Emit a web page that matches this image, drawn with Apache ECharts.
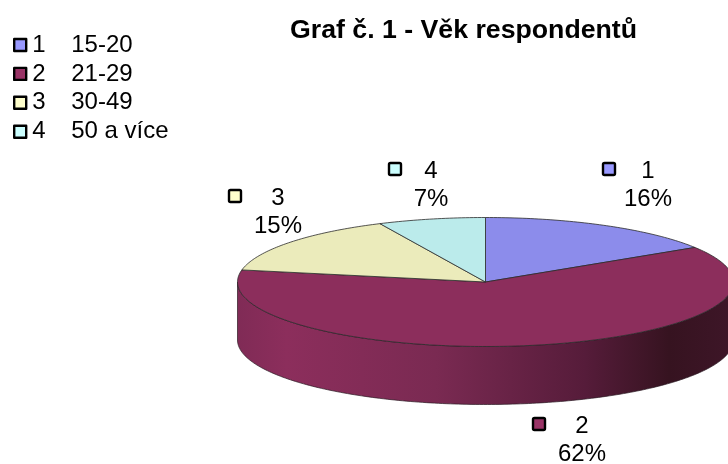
<!DOCTYPE html>
<html>
<head>
<meta charset="utf-8">
<style>
html, body { margin: 0; padding: 0; background: #fff; }
#chart { width: 728px; height: 464px; }
</style>
<script src="https://cdn.jsdelivr.net/npm/echarts@6/dist/echarts.min.js"></script>
</head>
<body>
<div id="chart"></div>
<script>
var titleText = 'Graf č. 1 - Věk respondentů';
var categories = ['1', '2', '3', '4'];
var ageGroups = ['15-20', '21-29', '30-49', '50 a více'];
var percents = [16, 62, 15, 7];
var legendColors = ['#9999FF', '#993366', '#FFFFCC', '#CCFFFF'];
var topColors = ['#8C8CEB', '#8C2E5C', '#EBEBBB', '#BBEBEB'];

var font = '"Liberation Sans", Arial, sans-serif';
var cx = 485.5, cy = 282, rx = 248, ry = 64.5, depth = 58;
// pozice popisku: stred textu a levy okraj znacky
var labelPos = [
    { x: 648, y: 171, mx: 603 },
    { x: 582, y: 426, mx: 533 },
    { x: 278, y: 198, mx: 229 },
    { x: 431, y: 171, mx: 389 }
];

var total = 0;
percents.forEach(function (v) { total += v; });

function point(angle, dy) {
    return [cx + rx * Math.sin(angle), cy + (dy || 0) - ry * Math.cos(angle)];
}

function arc(from, to, dy) {
    var pts = [], n = Math.max(2, Math.ceil((to - from) * 60)), i;
    for (i = 0; i <= n; i++) {
        pts.push(point(from + (to - from) * i / n, dy));
    }
    return pts;
}

function renderSlice(index, start, end) {
    return function () {
        var children = [];
        // predni stena jen mezi 90 a 270 stupni
        var wallFrom = Math.max(start, Math.PI / 2),
            wallTo = Math.min(end, Math.PI * 3 / 2);
        if (wallTo > wallFrom) {
            var wall = arc(wallFrom, wallTo, 0).concat(arc(wallFrom, wallTo, depth).reverse());
            children.push({
                type: 'polygon',
                shape: { points: wall },
                style: {
                    fill: new echarts.graphic.LinearGradient(cx - rx, 0, cx + rx, 0, [
                        { offset: 0, color: '#802B56' },
                        { offset: 0.1, color: '#8C2E5C' },
                        { offset: 0.4, color: '#7A2A52' },
                        { offset: 0.7, color: '#561C3A' },
                        { offset: 0.87, color: '#361320' },
                        { offset: 1, color: '#3E1628' }
                    ], true),
                    stroke: '#2a1a22',
                    lineWidth: 0.7
                }
            });
        }
        children.push({
            type: 'polygon',
            shape: { points: [[cx, cy]].concat(arc(start, end, 0)) },
            style: { fill: topColors[index], stroke: '#2b2b2b', lineWidth: 0.8, lineJoin: 'round' }
        });
        var pos = labelPos[index];
        children.push({
            type: 'rect',
            shape: { x: pos.mx, y: pos.y - 8, width: 12, height: 12, r: 1.5 },
            style: { fill: legendColors[index], stroke: '#000', lineWidth: 2.4 }
        });
        children.push({
            type: 'text',
            style: { text: categories[index], x: pos.x, y: pos.y, align: 'center', verticalAlign: 'middle', font: '24px ' + font, fill: '#000' }
        });
        children.push({
            type: 'text',
            style: { text: percents[index] + '%', x: pos.x, y: pos.y + 28, align: 'center', verticalAlign: 'middle', font: '24px ' + font, fill: '#000' }
        });
        return { type: 'group', children: children };
    };
}

var series = [], acc = 0;
percents.forEach(function (v, i) {
    var start = acc / total * Math.PI * 2;
    acc += v;
    series.push({
        name: categories[i],
        type: 'custom',
        coordinateSystem: 'none',
        silent: true,
        animation: false,
        itemStyle: { color: legendColors[i] },
        data: [[v]],
        renderItem: renderSlice(i, start, acc / total * Math.PI * 2)
    });
});

var chart = echarts.init(document.getElementById('chart'), null, { renderer: 'canvas' });
chart.setOption({
    animation: false,
    backgroundColor: '#fff',
    title: {
        text: titleText,
        left: 290,
        top: 17,
        padding: 0,
        textStyle: { fontFamily: font, fontSize: 26.7, fontWeight: 'bold', color: '#000' }
    },
    legend: {
        orient: 'vertical',
        left: 13,
        top: 33,
        padding: 0,
        itemWidth: 12,
        itemHeight: 12,
        itemGap: 4.9,
        selectedMode: false,
        icon: 'rect',
        itemStyle: { borderColor: '#000', borderWidth: 2.4, borderJoin: 'round' },
        data: categories,
        formatter: function (name) {
            return '{a|' + name + '}{b|' + ageGroups[categories.indexOf(name)] + '}';
        },
        textStyle: {
            rich: {
                a: { width: 39, padding: [0, 0, 0, 1], fontFamily: font, fontSize: 24, lineHeight: 28, color: '#000' },
                b: { fontFamily: font, fontSize: 24, lineHeight: 28, color: '#000' }
            }
        }
    },
    series: series
});
</script>
</body>
</html>
